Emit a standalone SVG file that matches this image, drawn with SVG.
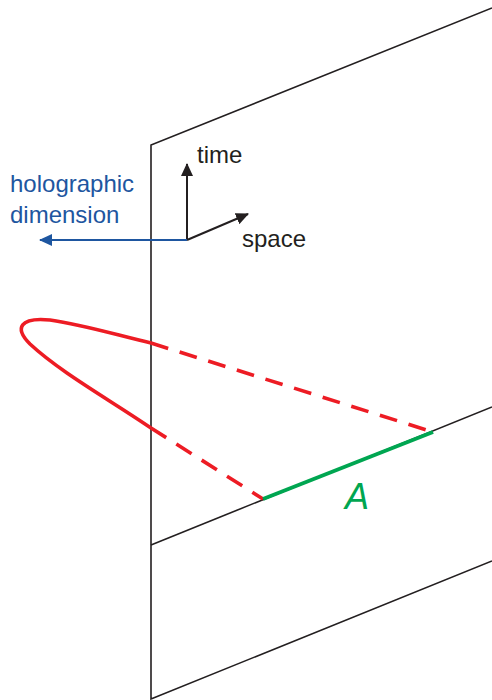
<svg xmlns="http://www.w3.org/2000/svg" width="492" height="700" viewBox="0 0 492 700">
<style>
.pl{fill:none;stroke:#231f20;stroke-width:1.6}
.red{fill:none;stroke:#ed1c24;stroke-width:3.6}
.dash{stroke-dasharray:18 12}
.lbl{font-family:"Liberation Sans",Arial,sans-serif;font-size:24px;fill:#231f20}
.blue{fill:#1e56a0}
</style>
<defs>
<marker id="ak" viewBox="0 0 13 12" refX="12" refY="6" markerWidth="13" markerHeight="12" orient="auto" markerUnits="userSpaceOnUse"><path d="M0,0 L13,6 L0,12 z" fill="#231f20"/></marker>
<marker id="ab" viewBox="0 0 13 12" refX="12" refY="6" markerWidth="13" markerHeight="12" orient="auto" markerUnits="userSpaceOnUse"><path d="M0,0 L13,6 L0,12 z" fill="#1e56a0"/></marker>
</defs>
<g id="plane">
<path class="pl" d="M492,8 L151,145 L151,699 L492,561"/>
<line class="pl" x1="151" y1="545" x2="492" y2="407" stroke-width="2"/>
</g>
<g id="connectors">
<line x1="187" y1="240" x2="187" y2="164" stroke="#231f20" stroke-width="2" marker-end="url(#ak)"/>
<line x1="187" y1="240" x2="248" y2="214" stroke="#231f20" stroke-width="2" marker-end="url(#ak)"/>
<line x1="187" y1="240" x2="40" y2="240" stroke="#1e56a0" stroke-width="2" marker-end="url(#ab)"/>
</g>
<g id="axes-labels">
<text class="lbl" x="197" y="163">time</text>
<text class="lbl" x="242" y="247">space</text>
<text class="lbl blue" x="10" y="192">holographic</text>
<text class="lbl blue" x="10" y="223">dimension</text>
</g>
<g id="curve">
<path class="red" d="M151,343 C120,336 85,325 50,320 C20,317 14,328 30,344 C60,372 110,400 151,428"/>
<line class="red dash" x1="151" y1="343" x2="433" y2="432"/>
<line class="red dash" x1="151" y1="428" x2="263" y2="499"/>
</g>
<g id="region-A">
<line x1="263" y1="499" x2="433" y2="432" stroke="#00a651" stroke-width="4"/>
<text x="357" y="509" text-anchor="middle" font-family="Liberation Sans,Arial,sans-serif" font-size="36" font-style="italic" fill="#00a651">A</text>
</g>
</svg>
